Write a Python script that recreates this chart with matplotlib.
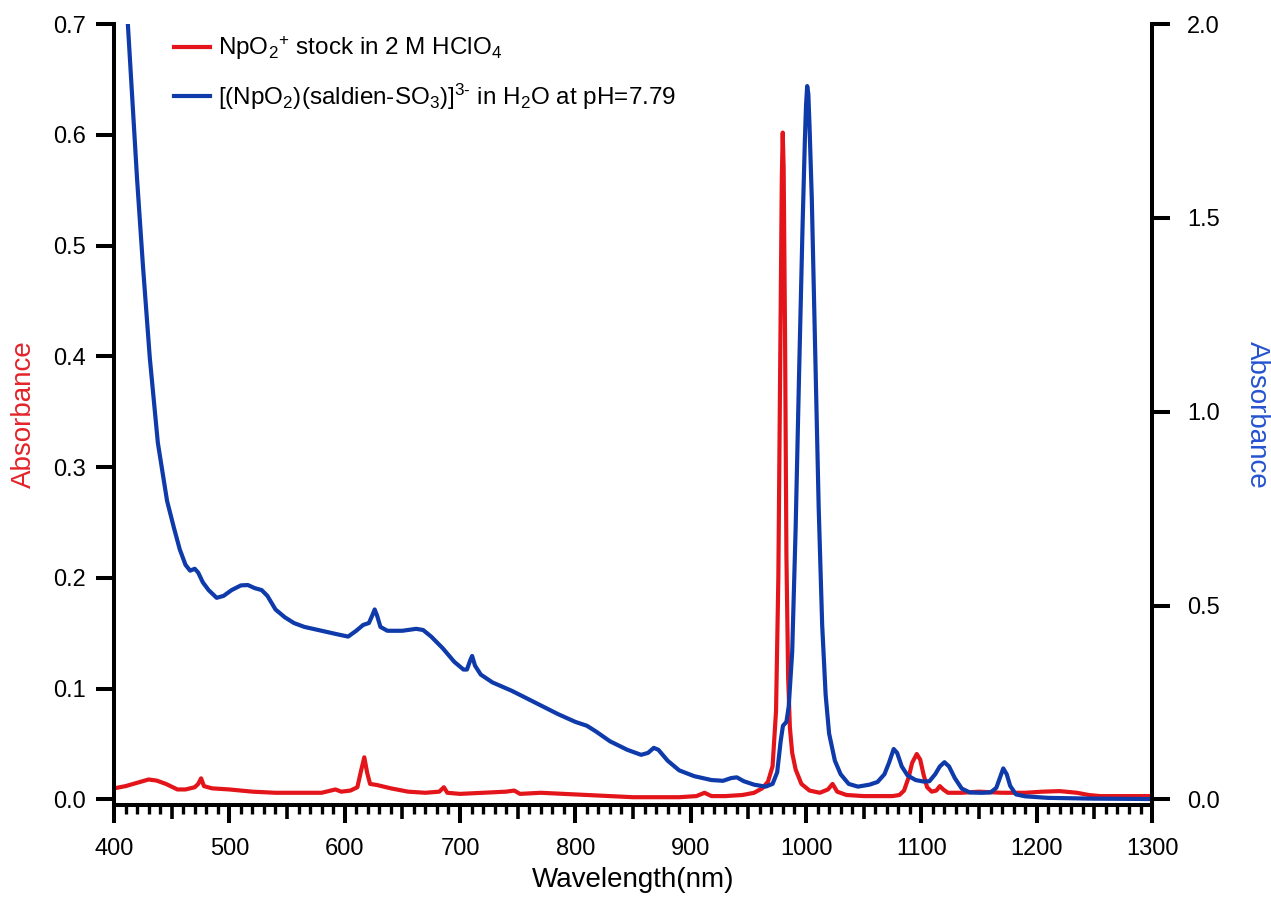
import matplotlib
matplotlib.use('Agg')
import matplotlib.pyplot as plt
from matplotlib.ticker import FixedLocator, NullFormatter

plt.rcParams['font.family'] = ['Liberation Sans', 'DejaVu Sans']
plt.rcParams['mathtext.fontset'] = 'custom'
plt.rcParams['mathtext.rm'] = 'Liberation Sans'
plt.rcParams['mathtext.it'] = 'Liberation Sans:italic'
plt.rcParams['mathtext.bf'] = 'Liberation Sans:bold'

# NpO2+ stock in 2 M HClO4 (left axis)
wl_red = [400, 410, 420, 430, 437, 445, 455, 462, 470, 473, 475.5, 478, 485, 500,
          520, 540, 560, 580, 588, 592, 597, 605, 611, 614, 617, 619.5, 622, 628,
          640, 655, 670, 682, 686, 689, 700, 720, 740, 747, 752, 770, 790, 810,
          830, 850, 870, 890, 905, 912, 918, 930, 945, 955, 962, 967, 971, 974,
          976, 977.5, 979, 979.8, 980.6, 981.8, 983, 984.5, 986, 988, 991, 996,
          1003, 1012, 1019, 1023, 1027, 1035, 1050, 1064, 1075, 1081, 1085, 1089,
          1092, 1096, 1099, 1102, 1105, 1109, 1113, 1116, 1119, 1123, 1135, 1150,
          1170, 1190, 1205, 1220, 1235, 1245, 1255, 1270, 1300]
abs_red = [0.010, 0.012, 0.015, 0.018, 0.017, 0.014, 0.009, 0.009, 0.011, 0.014, 0.019,
           0.012, 0.010, 0.009, 0.007, 0.006, 0.006, 0.006, 0.008, 0.009, 0.007, 0.008,
           0.011, 0.025, 0.038, 0.024, 0.014, 0.013, 0.010, 0.007, 0.006, 0.007, 0.011,
           0.006, 0.005, 0.006, 0.007, 0.008, 0.005, 0.006, 0.005, 0.004, 0.003, 0.002,
           0.002, 0.002, 0.003, 0.006, 0.003, 0.003, 0.004, 0.006, 0.010, 0.016, 0.030,
           0.080, 0.200, 0.380, 0.560, 0.602, 0.570, 0.420, 0.220, 0.110, 0.065, 0.042,
           0.027, 0.014, 0.008, 0.006, 0.009, 0.014, 0.007, 0.004, 0.003, 0.003, 0.003,
           0.004, 0.008, 0.020, 0.033, 0.041, 0.036, 0.022, 0.011, 0.007, 0.008, 0.012,
           0.009, 0.006, 0.006, 0.007, 0.006, 0.006, 0.007, 0.0075, 0.006, 0.004,
           0.003, 0.003, 0.003]

# [(NpO2)(saldien-SO3)]3- in H2O at pH 7.79 (right axis)
wl_blue = [400, 405, 410, 413, 416, 420, 425, 431, 438, 446, 452, 457, 462, 466, 470,
           473, 477, 482, 489, 495, 502, 510, 516, 522, 528, 533, 540, 548, 556, 565,
           580, 595, 603, 610, 616, 621, 624, 626, 628, 631, 637, 650, 662, 668, 675,
           685, 695, 703, 706, 709, 710.5, 713, 718, 728, 745, 765, 785, 800, 810, 818,
           830, 845, 857, 863, 868, 872, 880, 890, 903, 918, 928, 935, 940, 946, 955,
           965, 971, 975, 978, 980, 983, 985, 988, 991, 994, 997, 999, 1000, 1001,
           1002, 1003, 1005, 1008, 1011, 1014, 1017, 1020, 1025, 1030, 1037, 1045,
           1055, 1062, 1068, 1072, 1076, 1079, 1083, 1088, 1095, 1102, 1107, 1112,
           1116, 1120, 1124, 1129, 1135, 1142, 1152, 1160, 1165, 1168, 1171, 1174,
           1177, 1182, 1190, 1210, 1250, 1300]
abs_blue = [2.60, 2.35, 2.10, 1.95, 1.80, 1.60, 1.38, 1.14, 0.92, 0.77, 0.70, 0.645,
            0.605, 0.59, 0.595, 0.585, 0.56, 0.54, 0.52, 0.525, 0.54, 0.552, 0.553,
            0.545, 0.54, 0.525, 0.49, 0.47, 0.455, 0.445, 0.435, 0.425, 0.42, 0.435,
            0.45, 0.455, 0.475, 0.49, 0.475, 0.445, 0.435, 0.435, 0.44, 0.437, 0.42,
            0.39, 0.355, 0.335, 0.335, 0.36, 0.37, 0.345, 0.322, 0.302, 0.28, 0.25,
            0.22, 0.20, 0.19, 0.175, 0.15, 0.128, 0.115, 0.12, 0.133, 0.128, 0.10,
            0.075, 0.06, 0.05, 0.048, 0.055, 0.057, 0.047, 0.038, 0.033, 0.04, 0.07,
            0.15, 0.19, 0.20, 0.24, 0.38, 0.70, 1.10, 1.48, 1.70, 1.79, 1.84, 1.82,
            1.74, 1.55, 1.15, 0.75, 0.45, 0.27, 0.17, 0.10, 0.065, 0.04, 0.033, 0.038,
            0.045, 0.065, 0.095, 0.13, 0.12, 0.085, 0.062, 0.05, 0.046, 0.047, 0.065,
            0.085, 0.096, 0.085, 0.055, 0.028, 0.018, 0.017, 0.018, 0.03, 0.055, 0.08,
            0.065, 0.035, 0.013, 0.008, 0.004, 0.002, 0.001]

left_ticks = [0.0, 0.1, 0.2, 0.3, 0.4, 0.5, 0.6, 0.7]
right_ticks = [0.0, 0.5, 1.0, 1.5, 2.0]
x_major = [400, 500, 600, 700, 800, 900, 1000, 1100, 1200, 1300]

red = '#e3151a'
blue = '#0f3aaa'
lab_red = '#e3232a'
lab_blue = '#2553d0'

fig = plt.figure(figsize=(12.71, 9), dpi=100)
ax = fig.add_axes([0.0897, 0.1056, 0.8167, 0.8677])
ax2 = ax.twinx()

l1, = ax.plot(wl_red, abs_red, color=red, lw=3.0, label=r'NpO$_2$$^{+}$ stock in 2 M HClO$_4$')
l2, = ax2.plot(wl_blue, abs_blue, color=blue, lw=3.0,
               label=r'[(NpO$_2$)(saldien-SO$_3$)]$^{3\text{-}}$ in H$_2$O at pH=7.79')

ax.set_xlim(400, 1300)
ax.set_ylim(-0.005, 0.7)
ax2.set_ylim(-0.005 * 2.0 / 0.7, 2.0)

for a in (ax, ax2):
    a.spines['top'].set_visible(False)
    for s in a.spines.values():
        s.set_linewidth(2.9)
ax2.spines['left'].set_visible(False)
ax2.spines['bottom'].set_visible(False)
ax.spines['right'].set_visible(False)

ax.set_xticks(x_major)
minor = [v for v in range(400, 1301, 10) if v % 50 != 0]
ax.xaxis.set_minor_locator(FixedLocator(minor))
ax.xaxis.set_minor_formatter(NullFormatter())
ax.tick_params(axis='x', which='major', direction='out', length=13, width=2.9, labelsize=17, pad=11)
ax.tick_params(axis='x', which='minor', direction='out', length=6.5, width=2.4)

# medium ticks every 50 nm
sec = ax.secondary_xaxis('bottom')
sec.set_xticks([v for v in range(450, 1300, 100)])
sec.set_xticklabels([])
sec.tick_params(axis='x', direction='out', length=10, width=2.6)
sec.spines['bottom'].set_visible(False)

ax.set_yticks(left_ticks)
ax.set_yticklabels(['%.1f' % v for v in left_ticks])
ax.tick_params(axis='y', direction='out', length=13, width=2.9, labelsize=17, pad=7)
ax2.set_yticks(right_ticks)
ax2.set_yticklabels(['%.1f' % v for v in right_ticks])
ax2.tick_params(axis='y', direction='out', length=13, width=2.9, labelsize=17, pad=12)

ax.set_xlabel('Wavelength(nm)', fontsize=20, labelpad=5)
ax.set_ylabel('Absorbance', fontsize=20, color=lab_red, labelpad=12)
ax2.set_ylabel('Absorbance', fontsize=20, color=lab_blue, rotation=270, labelpad=36)

ax.legend(handles=[l1, l2], loc='upper left', bbox_to_anchor=(0.037, 1.015), frameon=False,
          fontsize=17.5, handlelength=1.45, handletextpad=0.35, labelspacing=0.8)

plt.savefig('out.png', dpi=100)
